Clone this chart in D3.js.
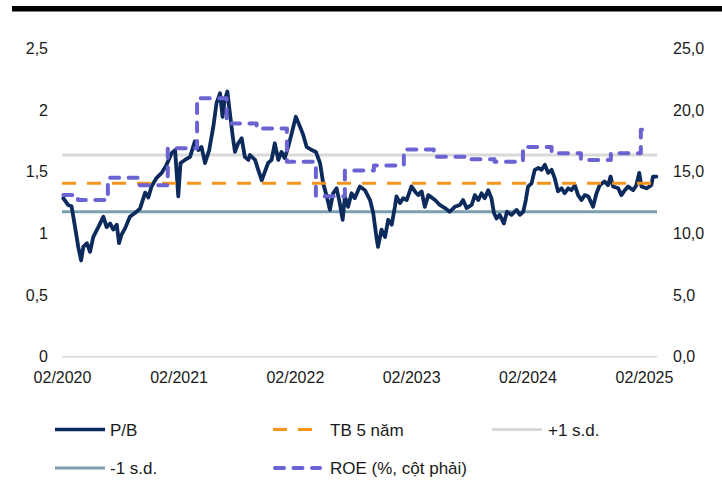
<!DOCTYPE html>
<html>
<head>
<meta charset="utf-8">
<script src="https://cdn.jsdelivr.net/npm/d3@7"></script>
<style>
  html, body { margin: 0; padding: 0; background: #fff; }
  svg { display: block; font-family: "Liberation Sans", Arial, sans-serif; }
</style>
</head>
<body>
<svg id="chart" width="722" height="483"></svg>
<script>
// P/B ratio (left axis)
const pbDates = [
  "2020-02-05","2020-02-20","2020-03-02","2020-03-13","2020-03-23","2020-04-01","2020-04-08","2020-04-19",
  "2020-04-29","2020-05-09","2020-05-25","2020-06-10","2020-06-20","2020-07-01","2020-07-11","2020-07-22",
  "2020-07-29","2020-08-06","2020-08-17","2020-09-01","2020-09-17","2020-10-03","2020-10-19","2020-10-29",
  "2020-11-08","2020-11-24","2020-12-10","2020-12-25","2021-01-10","2021-01-21","2021-01-31","2021-02-07",
  "2021-02-21","2021-03-09","2021-03-24","2021-04-04","2021-04-14","2021-04-25","2021-05-08","2021-05-21",
  "2021-05-31","2021-06-11","2021-06-19","2021-06-26","2021-07-04","2021-07-12","2021-07-21","2021-07-28",
  "2021-08-07","2021-08-18","2021-08-28","2021-09-08","2021-09-13","2021-09-29","2021-10-09","2021-10-20",
  "2021-10-30","2021-11-09","2021-11-20","2021-11-30","2021-12-11","2021-12-21","2021-12-31","2022-01-11",
  "2022-01-22","2022-02-04","2022-02-17","2022-02-27","2022-03-10","2022-03-26","2022-04-08","2022-04-21",
  "2022-05-01","2022-05-12","2022-05-22","2022-06-01","2022-06-12","2022-06-22","2022-07-01","2022-07-08",
  "2022-07-18","2022-07-29","2022-08-08","2022-08-24","2022-09-09","2022-09-25","2022-10-05","2022-10-15",
  "2022-10-20","2022-10-31","2022-11-11","2022-11-21","2022-12-02","2022-12-12","2022-12-17","2022-12-28",
  "2023-01-07","2023-01-18","2023-02-02","2023-02-13","2023-02-23","2023-03-06","2023-03-16","2023-03-27",
  "2023-04-17","2023-05-02","2023-05-18","2023-06-02","2023-06-18","2023-07-04","2023-07-14","2023-07-25",
  "2023-08-10","2023-08-20","2023-08-31","2023-09-10","2023-09-20","2023-10-01","2023-10-11","2023-10-19",
  "2023-10-27","2023-11-06","2023-11-19","2023-11-29","2023-12-13","2023-12-29","2024-01-08","2024-01-19",
  "2024-01-27","2024-02-03","2024-02-14","2024-02-24","2024-03-06","2024-03-16","2024-03-27","2024-04-06",
  "2024-04-17","2024-04-27","2024-05-07","2024-05-18","2024-05-28","2024-06-08","2024-06-18","2024-06-29",
  "2024-07-09","2024-07-20","2024-07-30","2024-08-10","2024-08-20","2024-08-25","2024-09-05","2024-09-15",
  "2024-09-30","2024-10-11","2024-10-19","2024-10-27","2024-11-12","2024-11-22","2024-12-03","2024-12-13",
  "2024-12-29","2025-01-08","2025-01-17","2025-01-24","2025-02-09","2025-02-24","2025-03-01","2025-03-12"
];
const pbValues = [
  1.285,1.23,1.22,1.05,0.89,0.78,0.89,0.92,
  0.85,0.97,1.05,1.135,1.05,1.08,1.03,1.07,
  0.92,0.99,1.04,1.135,1.165,1.20,1.33,1.29,
  1.38,1.45,1.49,1.555,1.65,1.675,1.30,1.57,
  1.595,1.62,1.745,1.675,1.70,1.57,1.675,1.865,
  2.055,2.135,1.945,2.08,2.15,1.975,1.785,1.66,
  1.73,1.77,1.62,1.595,1.635,1.595,1.515,1.43,
  1.50,1.57,1.595,1.73,1.595,1.66,1.61,1.70,
  1.81,1.945,1.865,1.80,1.70,1.675,1.66,1.57,
  1.405,1.30,1.19,1.325,1.365,1.245,1.11,1.30,
  1.215,1.325,1.285,1.38,1.35,1.27,1.165,0.97,
  0.89,1.03,0.97,1.11,1.07,1.215,1.30,1.245,
  1.285,1.27,1.38,1.34,1.31,1.34,1.215,1.31,
  1.27,1.23,1.205,1.175,1.215,1.23,1.27,1.205,
  1.23,1.31,1.27,1.325,1.285,1.35,1.285,1.165,
  1.12,1.15,1.08,1.175,1.15,1.19,1.15,1.175,
  1.27,1.38,1.405,1.515,1.53,1.515,1.555,1.49,
  1.515,1.445,1.34,1.365,1.325,1.365,1.35,1.39,
  1.31,1.27,1.31,1.30,1.245,1.215,1.325,1.39,
  1.42,1.39,1.46,1.38,1.365,1.31,1.35,1.38,
  1.35,1.39,1.49,1.38,1.365,1.39,1.46,1.46
];

// 5-year average and +/- 1 standard deviation bands (left axis)
const avg5y = 1.406;
const plusSd = 1.636;
const minusSd = 1.176;

// Quarterly ROE in % (right axis); each value holds from its date to the next
const roeDates = [
  "2020-02-05","2020-03-22","2020-06-24","2020-09-26","2020-12-29","2021-03-31","2021-07-02","2021-10-04",
  "2022-01-07","2022-04-08","2022-07-08","2022-10-07","2023-01-09","2023-04-13","2023-07-19","2023-10-21",
  "2024-01-18","2024-04-17","2024-07-18","2024-10-20","2025-01-22","2025-02-22"
];
const roeValues = [
  13.1,12.7,14.5,13.9,16.9,20.95,18.9,18.5,
  15.8,13.0,15.1,15.5,16.8,16.2,16.0,15.8,
  17.0,16.5,15.95,16.5,18.4,18.4
];

// Axis ticks
const leftTicks = [0, 0.5, 1, 1.5, 2, 2.5];
const rightTicks = [0, 5, 10, 15, 20, 25];
const xTickDates = ["2020-02-01","2021-02-01","2022-02-01","2023-02-01","2024-02-01","2025-02-01"];

// Legend entries
const legendLabels = ["P/B", "TB 5 năm", "+1 s.d.", "-1 s.d.", "ROE (%, cột phải)"];

const parse = d3.timeParse("%Y-%m-%d");
const commaFmt = (d, digits) => d3.format("." + digits + "f")(d).replace(".", ",");

const svg = d3.select("#chart");
const W = 722, H = 483;
const plotLeft = 62, plotRight = 657;
const yTop = 48.3, yBottom = 356.7;

const x = d3.scaleTime()
  .domain([parse("2020-02-01"), parse("2025-02-01")])
  .range([62, 644]);
const yL = d3.scaleLinear().domain([0, 2.5]).range([yBottom, yTop]);
const yR = d3.scaleLinear().domain([0, 25]).range([yBottom, yTop]);

const colors = {
  pb: "#0c2a5b",
  avg: "#f7941d",
  plus: "#d9d9d9",
  minus: "#7a9fae",
  roe: "#6a63d1"
};

// top rule
svg.append("rect").attr("x", 12).attr("y", 6).attr("width", W - 12).attr("height", 5.5).attr("fill", "#000");

// baseline axis
svg.append("line")
  .attr("x1", plotLeft).attr("x2", plotRight)
  .attr("y1", yL(0)).attr("y2", yL(0))
  .attr("stroke", "#d9d9d9").attr("stroke-width", 1.5);

// left axis labels
svg.append("g").selectAll("text").data(leftTicks).join("text")
  .attr("x", 48).attr("y", d => yL(d)).attr("dy", "0.36em")
  .attr("text-anchor", "end").attr("font-size", 16).attr("fill", "#1a1a1a")
  .text(d => (d % 1 === 0 ? String(d) : commaFmt(d, 1)));

// right axis labels
svg.append("g").selectAll("text").data(rightTicks).join("text")
  .attr("x", 673).attr("y", d => yR(d)).attr("dy", "0.36em")
  .attr("text-anchor", "start").attr("font-size", 16).attr("fill", "#1a1a1a")
  .text(d => commaFmt(d, 1));

// x axis labels
const xAxis = d3.axisBottom(x)
  .tickValues(xTickDates.map(parse))
  .tickFormat(d3.timeFormat("%m/%Y"))
  .tickSize(0).tickPadding(0);
const gx = svg.append("g").attr("transform", `translate(0,${yL(0)})`).call(xAxis);
gx.select(".domain").remove();
gx.selectAll("text").attr("font-size", 16).attr("fill", "#1a1a1a")
  .attr("font-family", "Liberation Sans, Arial, sans-serif")
  .attr("dy", null).attr("y", 26);

// horizontal reference lines
function hline(v, color, width, dash) {
  const l = svg.append("line")
    .attr("x1", plotLeft).attr("x2", plotRight)
    .attr("y1", yL(v)).attr("y2", yL(v))
    .attr("stroke", color).attr("stroke-width", width);
  if (dash) l.attr("stroke-dasharray", dash);
  return l;
}
hline(plusSd, colors.plus, 3);
hline(minusSd, colors.minus, 3);

// P/B line
const pbData = pbDates.map((d, i) => ({ date: parse(d), value: pbValues[i] }));
svg.append("path").datum(pbData)
  .attr("fill", "none").attr("stroke", colors.pb).attr("stroke-width", 3.8)
  .attr("stroke-linejoin", "round").attr("stroke-linecap", "round")
  .attr("d", d3.line().x(d => x(d.date)).y(d => yL(d.value)));

hline(avg5y, colors.avg, 3, "14,11");

// ROE step line
const roeData = roeDates.map((d, i) => ({ date: parse(d), value: roeValues[i] }));
svg.append("path").datum(roeData)
  .attr("fill", "none").attr("stroke", colors.roe).attr("stroke-width", 4)
  .attr("stroke-linecap", "round").attr("stroke-linejoin", "round")
  .attr("stroke-dasharray", "9,9.5")
  .attr("d", d3.line().curve(d3.curveStepAfter).x(d => x(d.date)).y(d => yR(d.value)));

// legend
const legendItems = [
  { label: legendLabels[0], color: colors.pb, width: 3.5, dash: null, cap: "butt", x: 55, tx: 110, y: 429.5 },
  { label: legendLabels[1], color: colors.avg, width: 3, dash: "14,11", cap: "butt", x: 273, tx: 330, y: 429.5 },
  { label: legendLabels[2], color: colors.plus, width: 3, dash: null, cap: "butt", x: 492, tx: 548, y: 429.5 },
  { label: legendLabels[3], color: colors.minus, width: 3, dash: null, cap: "butt", x: 55, tx: 110, y: 468 },
  { label: legendLabels[4], color: colors.roe, width: 4, dash: "9,9.5", cap: "round", x: 275, tx: 330, y: 468 }
];
const lg = svg.append("g").selectAll("g").data(legendItems).join("g");
lg.append("line")
  .attr("x1", d => d.x).attr("x2", d => d.x + (d.cap === "round" ? 45 : 50))
  .attr("y1", d => d.y).attr("y2", d => d.y)
  .attr("stroke", d => d.color).attr("stroke-width", d => d.width)
  .attr("stroke-linecap", d => d.cap)
  .attr("stroke-dasharray", d => d.dash);
lg.append("text")
  .attr("x", d => d.tx)
  .attr("y", d => d.y).attr("dy", "0.36em")
  .attr("font-size", 17).attr("fill", "#1a1a1a")
  .text(d => d.label);
</script>
</body>
</html>
